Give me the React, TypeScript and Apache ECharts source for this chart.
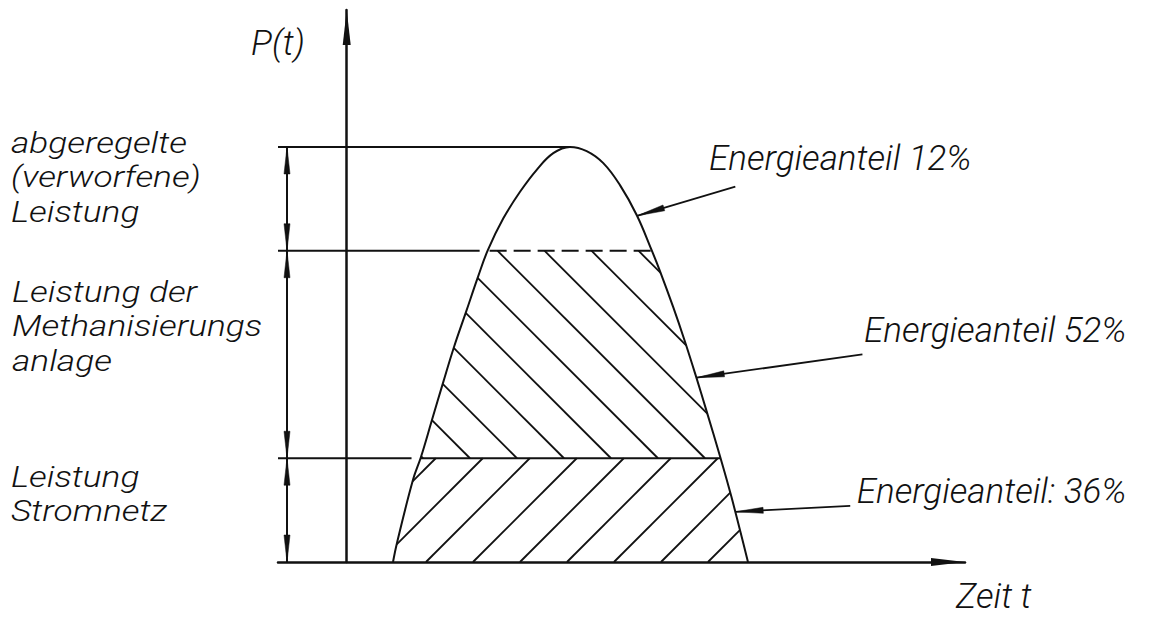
import React, { useEffect, useRef } from "react";
import * as echarts from "echarts";

// ---- data (time t in arbitrary units, power P in % of peak) ----
const curveT = [6.74, 7.32, 9.65, 10.81, 12.41, 14.01, 15.62, 17.36, 19.11, 20.56, 22.8, 25.23, 27.66, 30.07, 32.5, 34.93, 37.35, 39.78, 42.21, 44.37, 45.53, 47.53, 49.16, 50.87, 52.34, 54.37, 56.0, 58.41];
const curveP = [0, 4.6, 19.8, 25.3, 34.2, 43.1, 51.8, 60.2, 68.7, 75.2, 82.8, 89.2, 94.5, 98.5, 100, 99.0, 96.1, 90.8, 83.6, 75.2, 70.4, 61.4, 53.5, 44.6, 36.6, 25.3, 15.7, 0];
const levels = [25, 75, 100]; // Stromnetz, Methanisierung, Spitze
const bandLabels = [
  ["Leistung", "Stromnetz"],
  ["Leistung der", "Methanisierungs", "anlage"],
  ["abgeregelte", "(verworfene)", "Leistung"],
];
const shareLabels = ["Energieanteil: 36%", "Energieanteil 52%", "Energieanteil 12%"];
const sharePointerP = [12.1, 44.4, 83.4];
const axisNames = ["Zeit t", "P(t)"];
const tRange = [-10, 90];
const pRange = [0, 133];

// ---- layout / style ----
const W = 1149;
const H = 617;
const INK = "#111";
const FS = 35;
const FS_LEFT = 29.4;
const LINE_H = 34.5;
const FONT_FAMILY = 'Roboto, "Open Sans", sans-serif';
// [x, baseline of first line]
const bandLabelPos = [
  [11, 486.9],
  [12, 301.9],
  [11, 152.7],
];
const shareLabelPos = [[856.7, 503.3], [864, 342.7], [709, 170]];
const leaderOffset = [[115, -6], [166, -23.4], [98.3, -29.3]];
const axisNamePos = [[956, 608.5], [251, 55]];
const extensionGap = [9, 8, 0];

function textEl(text: string, x: number, baseline: number, fs: number, sx = 1) {
  return {
    type: "text",
    x,
    y: baseline - LINE_H / 2 - 0.342 * fs,
    scaleX: sx,
    silent: true,
    style: {
      text,
      fill: INK,
      fontSize: fs,
      lineHeight: LINE_H,
      fontFamily: FONT_FAMILY,
      fontStyle: "italic",
      fontWeight: 300,
      align: "left",
      verticalAlign: "top",
    },
  };
}

function xAtY(pts: number[][], y: number): number {
  for (let i = 0; i < pts.length - 1; i++) {
    const [x1, y1] = pts[i];
    const [x2, y2] = pts[i + 1];
    if ((y - y1) * (y - y2) <= 0 && y1 !== y2) {
      return x1 + ((y - y1) / (y2 - y1)) * (x2 - x1);
    }
  }
  return pts[pts.length - 1][0];
}

function renderOverlay(_params: any, api: any) {
  const px: number[][] = curveT.map((t, i) => api.coord([t, curveP[i]]));
  let peakIdx = 0;
  curveP.forEach((p, i) => {
    if (p > curveP[peakIdx]) peakIdx = i;
  });
  const left = px.slice(0, peakIdx + 1);
  const right = px.slice(peakIdx);
  const peakX = px[peakIdx][0];
  const x0 = api.coord([tRange[0], 0])[0];
  const yOf = (p: number) => api.coord([0, p])[1];
  const y0 = yOf(0);
  const lvY = levels.map(yOf);
  const children: any[] = [];
  const line = (x1: number, y1: number, x2: number, y2: number, w = 2, dash?: number[]) =>
    children.push({
      type: "line",
      silent: true,
      shape: { x1, y1, x2, y2 },
      style: { stroke: INK, lineWidth: w, lineDash: dash },
    });
  const arrowHead = (tip: number[], from: number[], len: number, half: number) => {
    const dx = tip[0] - from[0];
    const dy = tip[1] - from[1];
    const d = Math.hypot(dx, dy);
    const ux = dx / d;
    const uy = dy / d;
    const bx = tip[0] - ux * len;
    const by = tip[1] - uy * len;
    children.push({
      type: "polygon",
      silent: true,
      shape: { points: [tip, [bx - uy * half, by + ux * half], [bx + uy * half, by - ux * half]] },
      style: { fill: INK, stroke: INK, lineWidth: 0.5 },
    });
  };

  // extension lines to the left
  levels.forEach((p, i) => {
    const y = lvY[i];
    const xl = xAtY(left, y);
    line(x0, y, xl - extensionGap[i], y, 2);
  });
  // boundary lines inside the curve
  line(xAtY(left, lvY[0]), lvY[0], xAtY(right, lvY[0]), lvY[0], 2);
  line(xAtY(left, lvY[1]) + 2, lvY[1], xAtY(right, lvY[1]), lvY[1], 2, [17, 7]);

  // hatching
  const poly = px.concat([px[0]]);
  const hatch = (k: number, cBase: number, yTop: number, yBot: number) => {
    const spacing = 47;
    for (let n = -25; n <= 25; n++) {
      const c = cBase + n * spacing;
      const ss: number[] = [];
      for (let i = 0; i < poly.length - 1; i++) {
        const [xa, ya] = poly[i];
        const [xb, yb] = poly[i + 1];
        const dx = xb - xa;
        const dy = yb - ya;
        const den = dx - k * dy;
        if (Math.abs(den) < 1e-9) continue;
        const u = (c + k * ya - xa) / den;
        if (u >= 0 && u <= 1) ss.push(ya + u * dy);
      }
      if (ss.length < 2) continue;
      const s1 = Math.max(Math.min(...ss), yTop);
      const s2 = Math.min(Math.max(...ss), yBot);
      if (s2 - s1 < 0.5) continue;
      line(c + k * s1, s1, c + k * s2, s2, 1.8);
    }
  };
  hatch(1, peakX - lvY[0] - 6, lvY[1], lvY[0]);
  hatch(-1, peakX + y0 - 3, lvY[0], y0);

  // dimension arrows
  const xd = x0 + 9;
  line(xd, y0, xd, lvY[2], 2);
  const bounds = [y0].concat(lvY);
  for (let i = 0; i < bounds.length - 1; i++) {
    const ya = bounds[i];
    const yb = bounds[i + 1];
    arrowHead([xd, ya], [xd, ya - 10], 27, 3);
    arrowHead([xd, yb], [xd, yb + 10], 27, 3);
  }

  // leader arrows to the curve
  sharePointerP.forEach((p, i) => {
    const y = yOf(p);
    const tip = [xAtY(right, y), y];
    const tail = [tip[0] + leaderOffset[i][0], tip[1] + leaderOffset[i][1]];
    line(tail[0], tail[1], tip[0], tip[1], 1.8);
    arrowHead(tip, tail, 28, 3);
  });

  return { type: "group", children };
}

export default function App() {
  const ref = useRef<HTMLDivElement>(null);
  useEffect(() => {
    if (!ref.current) return;
    const chart = echarts.init(ref.current, undefined, { renderer: "svg" });
    const texts: any[] = [];
    bandLabels.forEach((lines, i) =>
      texts.push(textEl(lines.join("\n"), bandLabelPos[i][0], bandLabelPos[i][1], FS_LEFT, 1.2))
    );
    shareLabels.forEach((s, i) => texts.push(textEl(s, shareLabelPos[i][0], shareLabelPos[i][1], FS)));
    axisNames.forEach((s, i) => texts.push(textEl(s, axisNamePos[i][0], axisNamePos[i][1], FS)));

    const axisLineCommon = {
      show: true,
      onZero: true,
      symbol: ["none", "triangle"],
      lineStyle: { color: INK, width: 2.5 },
    };
    chart.setOption({
      animation: false,
      backgroundColor: "#fff",
      grid: { left: 278, right: W - 965, top: 10, bottom: H - 562, containLabel: false, outerBoundsMode: "none" },
      xAxis: {
        type: "value",
        min: tRange[0],
        max: tRange[1],
        axisLine: { ...axisLineCommon, symbolSize: [8, 34], symbolOffset: [0, -17] },
        axisTick: { show: false },
        axisLabel: { show: false },
        splitLine: { show: false },
      },
      yAxis: {
        type: "value",
        min: pRange[0],
        max: pRange[1],
        axisLine: { ...axisLineCommon, symbolSize: [8, 35], symbolOffset: [0, -17.5] },
        axisTick: { show: false },
        axisLabel: { show: false },
        splitLine: { show: false },
      },
      series: [
        {
          type: "line",
          data: curveT.map((t, i) => [t, curveP[i]]),
          smooth: 0.4,
          symbol: "none",
          showSymbol: false,
          silent: true,
          lineStyle: { color: INK, width: 2 },
          z: 5,
        },
        {
          type: "custom",
          coordinateSystem: "cartesian2d",
          data: [[0, 0]],
          clip: false,
          silent: true,
          renderItem: renderOverlay,
          z: 4,
        },
      ],
      graphic: texts,
    });
    return () => chart.dispose();
  }, []);
  return <div ref={ref} style={{ position: "fixed", left: 0, top: 0, width: W, height: H, background: "#fff" }} />;
}
